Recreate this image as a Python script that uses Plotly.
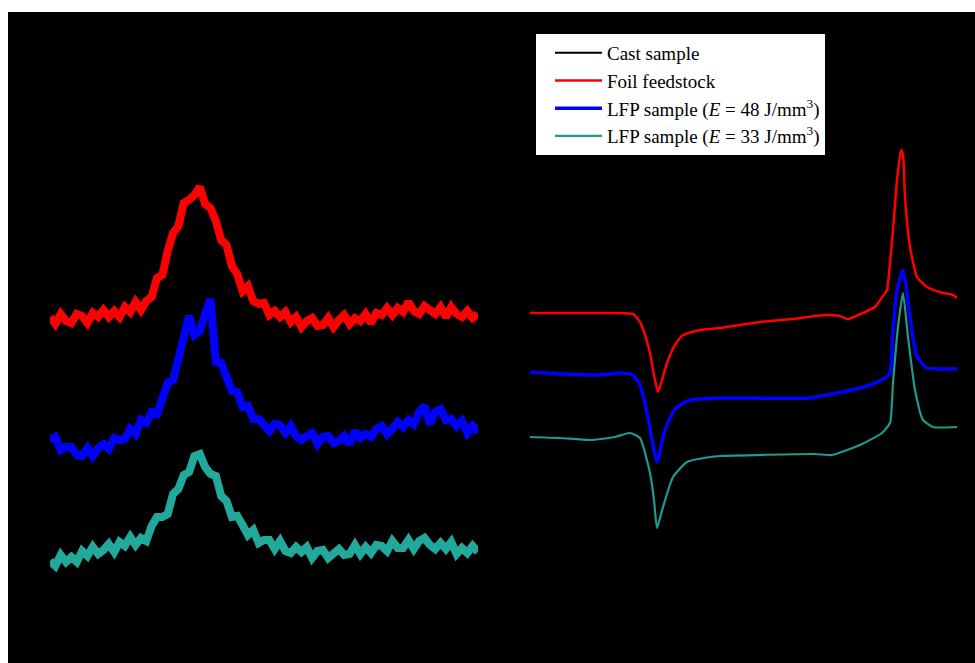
import plotly.graph_objects as go

# ---------------- XRD patterns (left panel) ----------------
two_theta = [20 + 0.75 * k for k in range(81)]

xrd_foil = [346, 339, 349, 342, 340, 349, 347, 340, 350, 346,
            353, 346, 352, 346, 356, 351, 361, 353, 362, 366,
            385, 388, 412, 430, 437, 460, 463, 468, 476, 459,
            455, 442, 423, 418, 397, 389, 372, 377, 362, 359,
            360, 348, 352, 346, 351, 341, 346, 336, 342, 345,
            337, 338, 345, 336, 343, 348, 339, 345, 342, 349,
            340, 350, 348, 355, 348, 355, 351, 361, 352, 349,
            357, 354, 349, 356, 346, 356, 349, 346, 352, 345,
            349]

xrd_lfp48 = [223, 226, 213, 216, 216, 208, 207, 215, 207, 215,
             219, 214, 225, 223, 224, 234, 229, 243, 240, 251,
             249, 265, 280, 283, 307, 324, 347, 328, 332, 349,
             364, 301, 300, 286, 272, 271, 256, 257, 244, 244,
             238, 232, 239, 238, 230, 237, 227, 223, 227, 230,
             219, 226, 227, 220, 222, 227, 219, 232, 225, 229,
             226, 234, 237, 229, 234, 241, 236, 243, 239, 251,
             257, 239, 251, 254, 243, 244, 237, 242, 230, 237,
             231]

xrd_lfp33 = [102, 97, 108, 101, 106, 101, 112, 107, 116, 109,
             113, 119, 111, 121, 117, 126, 118, 125, 122, 137,
             146, 146, 149, 169, 174, 188, 191, 207, 209, 196,
             189, 187, 167, 162, 146, 147, 138, 128, 133, 120,
             123, 123, 114, 122, 112, 110, 116, 111, 116, 105,
             112, 113, 105, 111, 114, 108, 109, 118, 109, 116,
             110, 118, 117, 112, 122, 115, 115, 123, 114, 122,
             125, 118, 114, 120, 114, 121, 109, 115, 110, 117,
             111]

# ---------------- DSC traces (right panel) ----------------
temp_foil = [300, 315, 335, 351.5, 355, 357.5, 360, 362, 364, 366,
             368.5, 372.5, 376.5, 385, 395, 415, 431, 447.5, 455, 459,
             464, 467.5, 472.5, 476.5, 478.5, 480, 481.5, 483.5, 485.5, 486.5,
             487.5, 490, 493.5, 498.5, 506.5, 511.5, 513.5]
dsc_foil = [350, 350, 350, 349, 341, 328, 310, 288, 271, 283,
            300, 318, 328, 333, 335, 341, 344, 348, 347, 344,
            348, 351, 356, 367, 373, 400, 433, 483, 513, 508,
            466, 416, 386, 376, 370, 368, 365]

temp_lfp48 = [300, 315, 335, 345, 351.5, 355, 358.5, 361, 363.5, 366.5,
              370, 373.5, 380, 395, 439, 456, 470, 477.5, 480, 481.5,
              483.5, 486.5, 488, 490, 493.5, 498.5, 505, 513.5]
dsc_lfp48 = [291, 289, 288, 290, 288, 278, 250, 223, 201, 226,
             245, 256, 263, 265, 265, 271, 278, 285, 290, 333,
             373, 393, 378, 346, 306, 295, 294, 294]

temp_lfp33 = [300, 315, 330, 342.5, 350, 355, 360, 362, 363.5, 366.5,
              371.5, 378.5, 390, 395, 442.5, 451, 465, 476, 480, 481.5,
              484, 486.5, 489, 492.5, 496.5, 501.5, 513.5]
dsc_lfp33 = [226, 225, 223, 226, 230, 225, 190, 163, 135, 156,
             186, 201, 206, 207, 209, 208, 218, 230, 240, 280,
             336, 370, 326, 273, 243, 236, 236]

names = ["Cast sample", "Foil feedstock",
         "LFP sample (<i>E</i> = 48 J/mm<sup>3</sup>)",
         "LFP sample (<i>E</i> = 33 J/mm<sup>3</sup>)"]
colors = ["#000000", "#ff0000", "#0000ff", "#1f9a8c"]

fig = go.Figure()

# Cast sample: black curve on the black background
fig.add_trace(go.Scatter(x=[None], y=[None], mode="lines", name=names[0],
                         line=dict(color=colors[0], width=2),
                         xaxis="x2", yaxis="y2", showlegend=True))

# DSC curves carry the legend entries
for t, h, nm, c, w in [(temp_foil, dsc_foil, names[1], colors[1], 2.5),
                       (temp_lfp48, dsc_lfp48, names[2], colors[2], 3.5),
                       (temp_lfp33, dsc_lfp33, names[3], colors[3], 2.2)]:
    fig.add_trace(go.Scatter(x=t, y=h, mode="lines", name=nm, legendgroup=nm,
                             line=dict(color=c, width=w, shape="spline",
                                       smoothing=0.5),
                             xaxis="x2", yaxis="y2"))

# XRD patterns, drawn as thick noisy bands
for y, nm, c in [(xrd_foil, names[1], colors[1]),
                 (xrd_lfp48, names[2], colors[2]),
                 (xrd_lfp33, names[3], "#23a89c")]:
    fig.add_trace(go.Scatter(x=two_theta, y=y, mode="lines", name=nm,
                             legendgroup=nm, showlegend=False,
                             line=dict(color=c, width=8),
                             xaxis="x", yaxis="y"))

W, H = 975, 663
ml, mt = 8, 12
pw, ph = W - ml, H - mt


def px_x(p):
    return (p - ml) / pw


hidden = dict(showgrid=False, zeroline=False, showticklabels=False,
              showline=False, ticks="")

fig.update_layout(
    width=W, height=H,
    margin=dict(l=ml, r=0, t=mt, b=0, pad=0),
    paper_bgcolor="#ffffff",
    plot_bgcolor="#000000",
    xaxis=dict(domain=[px_x(50), px_x(478)], range=[20, 80], **hidden),
    yaxis=dict(domain=[0, 1], range=[0, 651], **hidden),
    xaxis2=dict(domain=[px_x(530), px_x(958)], range=[300, 514],
                anchor="y2", **hidden),
    yaxis2=dict(domain=[0, 1], range=[0, 651], anchor="x2", **hidden),
    shapes=[dict(type="rect", xref="paper", yref="paper",
                 x0=0, x1=1, y0=0, y1=1, layer="below",
                 fillcolor="#000000", line=dict(width=0))],
    legend=dict(x=px_x(535), y=1 - (33 - mt) / ph,
                xanchor="left", yanchor="top",
                bgcolor="#ffffff", bordercolor="#000000", borderwidth=1,
                font=dict(family="Liberation Serif", size=19, color="#000000"),
                itemwidth=47, indentation=14, tracegroupgap=0),
    showlegend=True,
)

fig.write_html("out.html")
